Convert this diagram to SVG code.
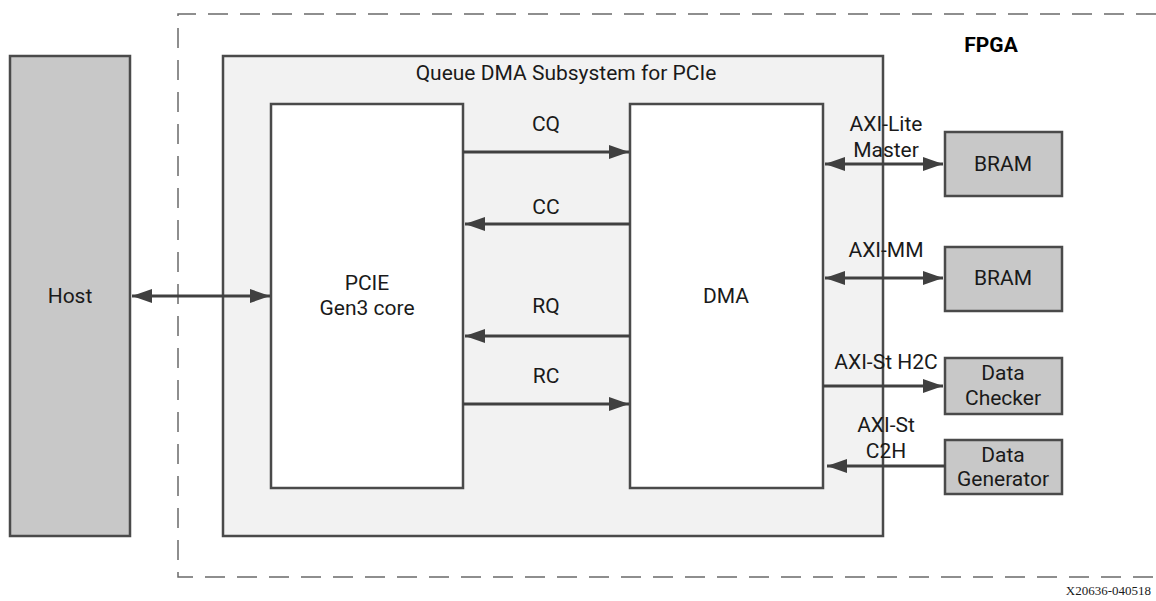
<svg xmlns="http://www.w3.org/2000/svg" width="1156" height="601" viewBox="0 0 1156 601">
<style>
.box{stroke:#4a4a4a;stroke-width:2.5}
.gray{fill:#c8c8c8}
.lt{fill:#f2f2f2}
.wh{fill:#ffffff}
.t{font-family:Roboto,"Liberation Sans",sans-serif;font-size:21px;fill:#1a1a1a;text-anchor:middle}
.c{stroke:#404040;stroke-width:3;fill:none}
</style>
<defs>
<marker id="ah" viewBox="0 0 20 14" refX="20" refY="7" markerWidth="20" markerHeight="14" markerUnits="userSpaceOnUse" orient="auto-start-reverse">
<path d="M0,0 L20,7 L0,14 Z" fill="#404040"/>
</marker>
</defs>
<rect width="1156" height="601" fill="#ffffff"/>
<g id="fpga">
<path d="M1156,14 H178 V577 H1156" fill="none" stroke="#6a6a6a" stroke-width="1.5" stroke-dasharray="20,12"/>
<text x="991" y="52" style="font-family:Roboto,'Liberation Sans',sans-serif;font-size:21px;font-weight:bold;fill:#000;text-anchor:middle">FPGA</text>
</g>
<g id="host">
<rect class="box gray" x="10" y="56" width="120" height="480"/>
<text class="t" x="70" y="303">Host</text>
</g>
<g id="qdma">
<rect class="box lt" x="223" y="56" width="660" height="480"/>
<text class="t" x="566" y="80">Queue DMA Subsystem for PCIe</text>
</g>
<g id="pcie">
<rect class="box wh" x="271" y="104" width="192" height="384"/>
<text class="t" x="367" y="290">PCIE</text>
<text class="t" x="367" y="315">Gen3 core</text>
</g>
<g id="dma">
<rect class="box wh" x="630" y="104" width="193" height="384"/>
<text class="t" x="726" y="303">DMA</text>
</g>
<g id="bram1">
<rect class="box gray" x="945" y="132" width="117" height="64"/>
<text class="t" x="1003" y="171">BRAM</text>
</g>
<g id="bram2">
<rect class="box gray" x="945" y="247" width="117" height="64"/>
<text class="t" x="1003" y="285">BRAM</text>
</g>
<g id="checker">
<rect class="box gray" x="945" y="358" width="117" height="56"/>
<text class="t" x="1003" y="380">Data</text>
<text class="t" x="1003" y="405">Checker</text>
</g>
<g id="generator">
<rect class="box gray" x="945" y="440" width="117" height="54"/>
<text class="t" x="1003" y="462">Data</text>
<text class="t" x="1003" y="486">Generator</text>
</g>
<g id="connectors">
<line class="c" x1="132" y1="296" x2="270" y2="296" marker-start="url(#ah)" marker-end="url(#ah)"/>
<line class="c" x1="463" y1="152" x2="629" y2="152" marker-end="url(#ah)"/>
<line class="c" x1="630" y1="224" x2="465" y2="224" marker-end="url(#ah)"/>
<line class="c" x1="630" y1="336" x2="465" y2="336" marker-end="url(#ah)"/>
<line class="c" x1="463" y1="404" x2="629" y2="404" marker-end="url(#ah)"/>
<line class="c" x1="825" y1="164" x2="943" y2="164" marker-start="url(#ah)" marker-end="url(#ah)"/>
<line class="c" x1="825" y1="278" x2="943" y2="278" marker-start="url(#ah)" marker-end="url(#ah)"/>
<line class="c" x1="823" y1="386" x2="943" y2="386" marker-end="url(#ah)"/>
<line class="c" x1="945" y1="466" x2="827" y2="466" marker-end="url(#ah)"/>
<text class="t" x="546" y="131">CQ</text>
<text class="t" x="546" y="214">CC</text>
<text class="t" x="546" y="313">RQ</text>
<text class="t" x="546" y="383">RC</text>
<text class="t" x="886" y="131">AXI-Lite</text>
<text class="t" x="886" y="157">Master</text>
<text class="t" x="886" y="257">AXI-MM</text>
<text class="t" x="886" y="369">AXI-St H2C</text>
<text class="t" x="886" y="432">AXI-St</text>
<text class="t" x="886" y="458">C2H</text>
</g>
<text x="1151" y="595" style="font-family:'Liberation Serif',serif;font-size:13px;fill:#1a1a1a;text-anchor:end">X20636-040518</text>
</svg>
